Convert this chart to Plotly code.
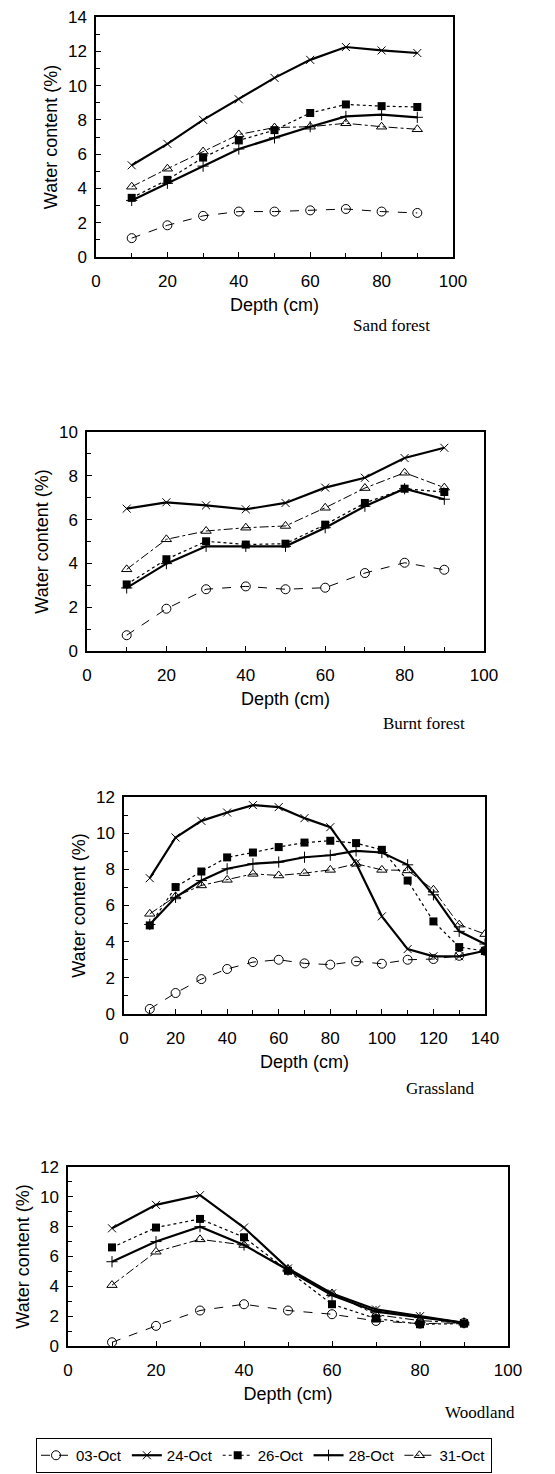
import plotly.graph_objects as go

# ---------------- data ----------------
dates = ["03-Oct", "24-Oct", "26-Oct", "28-Oct", "31-Oct"]

depth_sand = [10, 20, 30, 40, 50, 60, 70, 80, 90]
sand_03 = [1.1, 1.85, 2.4, 2.65, 2.65, 2.72, 2.8, 2.65, 2.57]
sand_24 = [5.35, 6.6, 8.0, 9.2, 10.45, 11.5, 12.25, 12.05, 11.9]
sand_26 = [3.45, 4.5, 5.8, 6.8, 7.4, 8.4, 8.9, 8.8, 8.75]
sand_28 = [3.3, 4.3, 5.3, 6.3, 6.95, 7.6, 8.2, 8.3, 8.15]
sand_31 = [4.1, 5.15, 6.15, 7.15, 7.55, 7.6, 7.8, 7.6, 7.45]

depth_burnt = [10, 20, 30, 40, 50, 60, 70, 80, 90]
burnt_03 = [0.72, 1.93, 2.82, 2.95, 2.82, 2.89, 3.56, 4.03, 3.71]
burnt_24 = [6.5, 6.79, 6.65, 6.47, 6.76, 7.46, 7.91, 8.81, 9.28]
burnt_26 = [3.04, 4.19, 5.01, 4.86, 4.9, 5.77, 6.76, 7.41, 7.26]
burnt_28 = [2.88, 3.99, 4.78, 4.78, 4.78, 5.63, 6.61, 7.41, 6.93]
burnt_31 = [3.73, 5.1, 5.48, 5.63, 5.71, 6.54, 7.44, 8.14, 7.46]

depth_grass = [10, 20, 30, 40, 50, 60, 70, 80, 90, 100, 110, 120, 130, 140]
grass_03 = [0.28, 1.16, 1.93, 2.49, 2.87, 3.0, 2.8, 2.73, 2.91, 2.78, 3.0, 3.04, 3.22, 3.5]
grass_24 = [7.51, 9.76, 10.68, 11.14, 11.55, 11.44, 10.83, 10.33, 8.34, 5.4, 3.59, 3.19, 3.19, 3.5]
grass_26 = [4.9, 7.02, 7.88, 8.66, 8.93, 9.23, 9.48, 9.58, 9.45, 9.08, 7.38, 5.12, 3.7, 3.48]
grass_28 = [4.95, 6.45, 7.38, 8.03, 8.31, 8.4, 8.67, 8.78, 9.02, 8.93, 8.25, 6.59, 4.57, 3.87]
grass_31 = [5.54, 6.5, 7.11, 7.42, 7.75, 7.66, 7.79, 7.97, 8.31, 7.97, 7.94, 6.87, 4.94, 4.42]

depth_wood = [10, 20, 30, 40, 50, 60, 70, 80, 90]
wood_03 = [0.25, 1.35, 2.38, 2.8, 2.38, 2.13, 1.68, 1.5, 1.55]
wood_24 = [7.89, 9.46, 10.11, 7.94, 5.2, 3.52, 2.45, 2.0, 1.55]
wood_26 = [6.61, 7.94, 8.52, 7.29, 5.04, 2.8, 1.84, 1.46, 1.5]
wood_28 = [5.65, 7.0, 8.0, 6.77, 5.09, 3.4, 2.3, 1.9, 1.55]
wood_31 = [4.08, 6.32, 7.15, 6.77, 5.16, 3.52, 2.1, 1.7, 1.55]

site_labels = ["Sand forest", "Burnt forest", "Grassland", "Woodland"]
x_ranges = [[0, 100], [0, 100], [0, 140], [0, 100]]
y_ranges = [[0, 14], [0, 10], [0, 12], [0, 12]]

# ---------------- styles ----------------
OFF = 8  # default page body margin of the html page
W, H = 555 - OFF, 1474 - OFF
SANS = "Liberation Sans, Arial, sans-serif"
SERIF = "Liberation Serif, Times New Roman, serif"

styles = {
    "03-Oct": dict(line=dict(color="black", width=1, dash="dash"),
                   marker=dict(symbol="circle-open", size=9, color="black", line=dict(width=1))),
    "24-Oct": dict(line=dict(color="black", width=2.2),
                   marker=dict(symbol="x-thin-open", size=8, color="black", line=dict(width=1))),
    "26-Oct": dict(line=dict(color="black", width=1.2, dash="dot"),
                   marker=dict(symbol="square", size=8, color="black")),
    "28-Oct": dict(line=dict(color="black", width=2.2),
                   marker=dict(symbol="cross-thin-open", size=8, color="black", line=dict(width=1))),
    "31-Oct": dict(line=dict(color="black", width=1, dash="dashdot"),
                   marker=dict(symbol="triangle-up-open", size=9, color="black", line=dict(width=1))),
}

panels = [
    (depth_sand, [sand_03, sand_24, sand_26, sand_28, sand_31]),
    (depth_burnt, [burnt_03, burnt_24, burnt_26, burnt_28, burnt_31]),
    (depth_grass, [grass_03, grass_24, grass_26, grass_28, grass_31]),
    (depth_wood, [wood_03, wood_24, wood_26, wood_28, wood_31]),
]

# pixel boxes in screen coords (left, right, top, bottom)
boxes = [(96, 453, 17, 257), (87, 484, 432, 651), (124, 485, 797, 1014), (68, 508, 1167, 1346)]
label_pos = [(391, 325), (424, 723), (440, 1088), (480, 1412)]


def fx(px):
    return (px - OFF) / W


def fy(py):
    return 1 - (py - OFF) / H


fig = go.Figure()
for i, (depths, series) in enumerate(panels):
    n = "" if i == 0 else str(i + 1)
    for d, vals in zip(dates, series):
        fig.add_trace(go.Scatter(
            x=depths, y=vals, mode="lines+markers", name=d,
            legendgroup=d, showlegend=(i == 0),
            xaxis="x" + n, yaxis="y" + n, **styles[d]))

    l, r, t, b = boxes[i]
    common = dict(showline=True, linecolor="black", linewidth=1.5, mirror=True,
                  ticks="inside", ticklen=5, tickcolor="black", tickwidth=1,
                  showgrid=False, zeroline=False, automargin=False,
                  ticklabeloverflow="allow",
                  tickfont=dict(family=SANS, size=17, color="black"))
    fig.layout["xaxis" + n] = dict(
        common, domain=[fx(l), fx(r)], anchor="y" + n, range=x_ranges[i],
        dtick=20, tick0=0, ticklabelstandoff=8,
        minor=dict(dtick=10, ticks="inside", ticklen=4, tickcolor="black"),
        title=dict(text="Depth (cm)", font=dict(family=SANS, size=18, color="black"), standoff=8))
    fig.layout["yaxis" + n] = dict(
        common, domain=[fy(b), fy(t)], anchor="x" + n, range=y_ranges[i],
        dtick=2, tick0=0, ticklabelstandoff=4,
        minor=dict(dtick=1, ticks="inside", ticklen=4, tickcolor="black"),
        title=dict(text="Water content (%)", font=dict(family=SANS, size=18, color="black"), standoff=6))

    lx, ly = label_pos[i]
    fig.add_annotation(text=site_labels[i], x=fx(lx), y=fy(ly), xref="paper", yref="paper",
                       showarrow=False, xanchor="center", yanchor="middle",
                       font=dict(family=SERIF, size=17, color="black"))

fig.update_layout(
    width=W, height=H, margin=dict(l=0, r=0, t=0, b=0, autoexpand=False),
    paper_bgcolor="white", plot_bgcolor="white",
    showlegend=True,
    legend=dict(orientation="h", x=fx(36), y=fy(1438), xanchor="left", yanchor="top",
                bordercolor="black", borderwidth=1, bgcolor="white",
                font=dict(family=SANS, size=15, color="black"),
                tracegroupgap=0),
)

fig.write_html("out.html")
